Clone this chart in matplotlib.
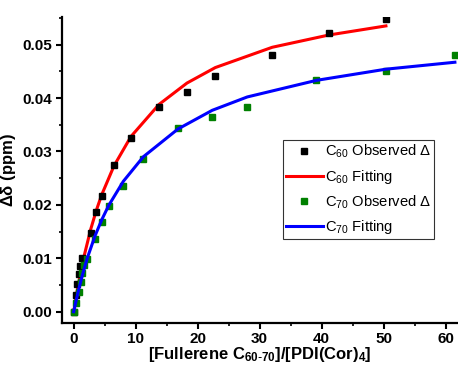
import numpy as np
import matplotlib
matplotlib.use("Agg")
import matplotlib.pyplot as plt
from matplotlib.ticker import MultipleLocator

plt.rcParams['font.family'] = ['Liberation Sans', 'DejaVu Sans']
plt.rcParams['mathtext.default'] = 'regular'

# C60 observed shifts
c60_x = [0, 0.32, 0.58, 0.85, 1.02, 1.29, 1.66, 2.74, 3.65, 4.52, 6.5, 9.24,
         13.76, 18.27, 22.84, 32.03, 41.18, 50.37]
c60_y = [0.0, 0.0031, 0.0051, 0.0070, 0.0086, 0.0100, 0.0098, 0.0147, 0.0186,
         0.0217, 0.0275, 0.0325, 0.0384, 0.0412, 0.0441, 0.0480, 0.0522, 0.0548]
# C60 fitting curve
c60_fit_x = [0, 0.37, 0.58, 1.13, 1.66, 2.74, 3.65, 4.52, 6.5, 9.24, 13.76,
             18.27, 22.84, 32.03, 41.18, 50.37]
c60_fit_y = [0.0, 0.00265, 0.00405, 0.00744, 0.01034, 0.01542, 0.01898, 0.0219,
             0.0273, 0.0328, 0.0388, 0.0428, 0.0457, 0.0495, 0.0518, 0.0535]

# C70 observed shifts
c70_x = [0, 0.3, 0.85, 1.13, 1.39, 1.66, 2.19, 3.44, 4.52, 5.65, 8.0, 11.23,
         16.82, 22.35, 28.0, 39.13, 50.37, 61.5]
c70_y = [0.0, 0.0016, 0.0037, 0.0056, 0.0072, 0.0087, 0.0098, 0.0137, 0.0167,
         0.0197, 0.0236, 0.0285, 0.0343, 0.0364, 0.0384, 0.0433, 0.0451, 0.0480]
# C70 fitting curve
c70_fit_x = [0, 0.3, 0.85, 1.39, 2.19, 3.44, 4.52, 5.65, 8.0, 11.23, 16.82,
             22.35, 28.0, 39.13, 50.37, 61.5]
c70_fit_y = [0.0, 0.00162, 0.00437, 0.00681, 0.01004, 0.01420, 0.01720, 0.01990,
             0.02440, 0.02900, 0.03420, 0.03770, 0.04020, 0.04330, 0.04540, 0.04670]

fig = plt.figure(figsize=(4.58, 3.65), dpi=100)
ax = fig.add_axes([0.1347, 0.1159, 0.8653, 0.838])

ax.plot(c60_x, c60_y, 's', color='black', markersize=5, label=r'C$_{60}$ Observed $\Delta$', zorder=3)
ax.plot(c60_fit_x, c60_fit_y, '-', color='red', lw=2.2, label=r'C$_{60}$ Fitting', zorder=2)
ax.plot(c70_x, c70_y, 's', color='green', markersize=5, label=r'C$_{70}$ Observed $\Delta$', zorder=3)
ax.plot(c70_fit_x, c70_fit_y, '-', color='blue', lw=2.2, label=r'C$_{70}$ Fitting', zorder=4)

ax.set_xlim(-1.94, 62.0)
ax.set_ylim(-0.00206, 0.0552)
ax.xaxis.set_major_locator(MultipleLocator(10))
ax.xaxis.set_minor_locator(MultipleLocator(5))
ax.yaxis.set_major_locator(MultipleLocator(0.01))
ax.yaxis.set_minor_locator(MultipleLocator(0.005))
ax.yaxis.set_major_formatter(plt.FuncFormatter(lambda v, p: f"{v:.2f}"))

for s in ['top', 'right']:
    ax.spines[s].set_visible(False)
for s in ['left', 'bottom']:
    ax.spines[s].set_linewidth(1.6)
ax.tick_params(which='major', direction='out', length=4, width=1.5, labelsize=11)
ax.tick_params(axis='x', which='major', pad=3)
ax.tick_params(axis='y', which='major', pad=3)
ax.tick_params(which='minor', direction='out', length=2.5, width=1.2)
for lab in ax.get_xticklabels() + ax.get_yticklabels():
    lab.set_fontweight('bold')

ax.set_xlabel(r'[Fullerene C$_{60\text{-}70}$]/[PDI(Cor)$_4$]', fontsize=12, fontweight='bold', labelpad=-1)
ax.set_ylabel(r'$\Delta\delta$ (ppm)', fontsize=12, fontweight='bold', labelpad=3)

leg = ax.legend(loc='upper left', bbox_to_anchor=(0.558, 0.597), fontsize=10.6,
                frameon=True, fancybox=False, borderpad=0.2, labelspacing=0.5,
                handlelength=2.5, handletextpad=0.15, borderaxespad=0)
leg.get_frame().set_edgecolor('black')
leg.get_frame().set_linewidth(0.8)

fig.savefig('out.png', dpi=100)
